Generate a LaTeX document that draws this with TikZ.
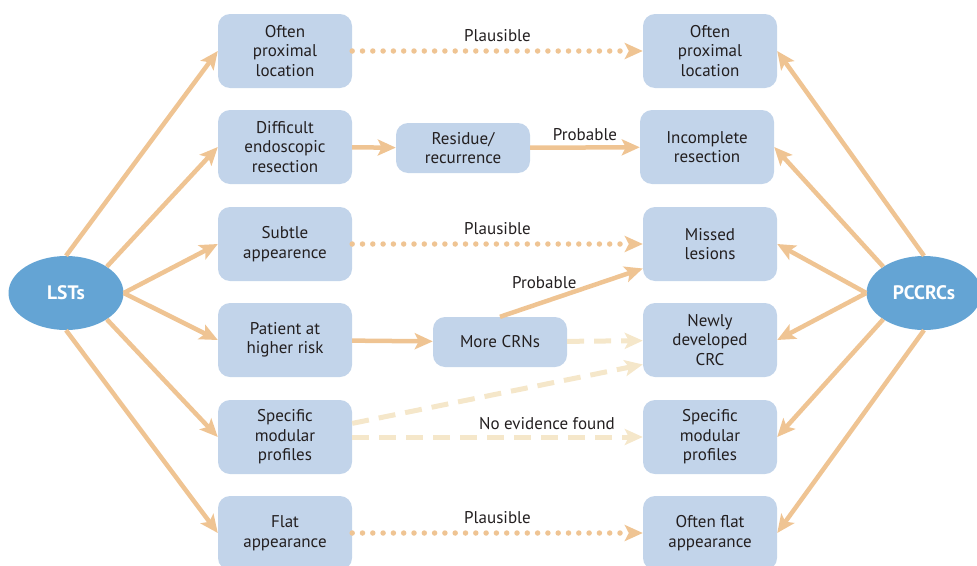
\documentclass[tikz,border=0pt]{standalone}
\usepackage{fontspec}
\setmainfont{PT Sans}
\usepackage{xcolor}
\usetikzlibrary{arrows.meta,positioning,shapes.geometric}

\definecolor{boxblue}{HTML}{C2D4EA}
\definecolor{ovalblue}{HTML}{64A4D4}
\definecolor{arrtan}{HTML}{EFC493}
\definecolor{arrpale}{HTML}{F5E7CA}
\definecolor{textgray}{HTML}{231F20}

\begin{document}
\begin{tikzpicture}[
    x=1pt, y=-1pt,
    fact/.style={rectangle, rounded corners=12pt, fill=boxblue, minimum width=134pt, minimum height=74pt,
      inner sep=0pt, align=center, text=textgray, font=\fontsize{17}{19.5}\selectfont},
    midbox/.style={fact, minimum height=50pt},
    oval/.style={ellipse, fill=ovalblue, minimum width=115pt, minimum height=74pt, inner sep=0pt,
      text=white, font=\fontsize{19.5}{22}\selectfont\bfseries},
    lbl/.style={text=textgray, font=\fontsize{17}{19.5}\selectfont},
    arr/.style={draw=arrtan, line width=4.5pt, -{Stealth[length=18pt, width=16pt, inset=4pt]}},
    dotarr/.style={arr, line cap=round, dash pattern=on 0pt off 10.3pt, line width=5.5pt},
    dasharr/.style={arr, draw=arrpale, dash pattern=on 17pt off 10pt, line width=5pt,
      -{Stealth[length=18pt, width=16pt, inset=4pt, fill=arrpale]}}
]
  \useasboundingbox (0,0) rectangle (977,565);

  % main causes
  \node[oval] (lst) at (66, 293) {LSTs};
  \node[oval] (pcc) at (924, 293) {PCCRCs};

  % left column
  \node[fact] (l1) at (285, 51)  {Often\\proximal\\location};
  \node[fact] (l2) at (285, 147) {Difficult\\endoscopic\\resection};
  \node[fact] (l3) at (285, 244) {Subtle\\appearence};
  \node[fact] (l4) at (285, 340) {Patient at\\higher risk};
  \node[fact] (l5) at (285, 437) {Specific\\modular\\profiles};
  \node[fact] (l6) at (285, 533) {Flat\\appearance};

  % right column
  \node[fact] (r1) at (710, 51)  {Often\\proximal\\location};
  \node[fact] (r2) at (707, 147) {Incomplete\\resection};
  \node[fact] (r3) at (710, 244) {Missed\\lesions};
  \node[fact] (r4) at (710, 340) {Newly\\developed\\CRC};
  \node[fact] (r5) at (710, 437) {Specific\\modular\\profiles};
  \node[fact] (r6) at (710, 533) {Often flat\\appearance};

  % intermediate steps
  \node[midbox] (res) at (463, 148) {Residue/\\recurrence};
  \node[midbox] (crn) at (500, 342) {More CRNs};

  % fan out from the two ovals
  \foreach \i/\la/\ra in {1/north/north, 2/north east/north west, 3/east/west,
                          4/east/west, 5/south east/south west, 6/south/south} {
    \draw[arr] (lst.\la) -- (l\i.west);
    \draw[arr] (pcc.\ra) -- (r\i.east);
  }

  \draw[dotarr] (l1) -- node[lbl, above=3pt]{Plausible} (r1);
  \draw[arr] (l2) -- (res);
  \draw[arr] (res) -- node[lbl, above=1pt]{Probable} (r2);
  \draw[dotarr] (l3) -- node[lbl, above=3pt]{Plausible} (r3);
  \draw[arr] (l4) -- (crn);
  \draw[arr] (crn.north) -- node[lbl, pos=0.31, above=8pt]{Probable} (r3.200);
  \draw[dasharr] (crn) -- (r4);
  \draw[dasharr] (l5) -- (r4.200);
  \draw[dasharr] (l5) -- node[lbl, pos=0.67, above=1pt]{No evidence found} (r5);
  \draw[dotarr] (l6) -- node[lbl, above=3pt]{Plausible} (r6);
\end{tikzpicture}
\end{document}
